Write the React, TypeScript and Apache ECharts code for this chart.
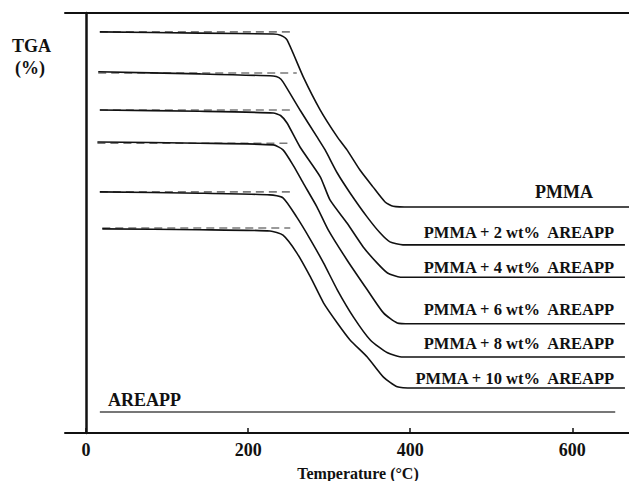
import React, { useEffect, useRef } from "react";
import * as echarts from "echarts";

// Temperature (°C) vs TGA (relative, arbitrary units, axis unlabeled)
const pmma = [[17, 95.5], [140, 95.2], [231, 95.0], [240, 94.7], [248, 93.6], [268, 84.8], [289, 76.9], [310, 70.5], [322, 67.4], [338, 62.6], [354, 58.6], [369, 55.0], [379, 54.0], [400, 53.8], [670, 53.8]];
const pmma2 = [[15, 86.0], [140, 85.5], [231, 85.0], [238, 84.6], [243, 83.6], [264, 76.9], [285, 70.5], [295, 67.4], [310, 61.9], [326, 57.1], [347, 51.4], [363, 47.6], [375, 45.5], [391, 44.8], [665, 44.8]];
const pmma4 = [[17, 76.9], [140, 76.6], [231, 76.2], [240, 75.6], [248, 73.8], [264, 68.1], [289, 61.0], [301, 55.5], [322, 50.0], [342, 44.3], [359, 40.5], [372, 38.1], [388, 37.1], [665, 37.1]];
const pmma6 = [[14, 69.3], [140, 69.0], [231, 68.6], [243, 67.4], [256, 63.6], [268, 59.5], [285, 53.8], [299, 48.3], [322, 41.2], [347, 34.1], [367, 28.6], [384, 26.2], [400, 26.0], [665, 26.0]];
const pmma8 = [[17, 57.4], [140, 57.1], [227, 56.7], [243, 56.0], [260, 51.4], [277, 46.0], [293, 40.5], [310, 34.1], [330, 27.6], [351, 22.1], [372, 19.1], [391, 18.1], [665, 18.1]];
const pmma10 = [[20, 48.6], [140, 48.4], [227, 48.1], [243, 47.1], [260, 42.9], [277, 37.1], [293, 31.0], [310, 26.2], [326, 22.1], [347, 18.1], [367, 13.3], [384, 11.0], [404, 10.7], [665, 10.7]];
const areapp = [[17, 5.0], [653, 5.0]];

const curves = [pmma, pmma2, pmma4, pmma6, pmma8, pmma10];
const curveNames = ["PMMA", "PMMA + 2 wt%  AREAPP", "PMMA + 4 wt%  AREAPP", "PMMA + 6 wt%  AREAPP", "PMMA + 8 wt%  AREAPP", "PMMA + 10 wt%  AREAPP"];

// dashed initial-mass reference lines
const baseLevels = [95.5, 85.7, 76.9, 69.0, 57.4, 48.8];
const baseStart = [17, 15, 17, 14, 17, 20];
const baseEnd = [252, 260, 252, 249, 252, 252];

const xTicks = [0, 200, 400, 600];

const FONT = "'Liberation Serif', 'Times New Roman', serif";

export default function App() {
  const ref = useRef<HTMLDivElement>(null);
  useEffect(() => {
    if (!ref.current) return;
    const chart = echarts.init(ref.current, null, { renderer: "svg" });
    const series: any[] = [];
    curves.forEach((d, i) => {
      series.push({
        name: curveNames[i],
        type: "line",
        data: d,
        symbol: "none",
        smooth: 0.2,
        lineStyle: { color: "#111", width: 1.6 },
        z: 3,
      });
      series.push({
        name: curveNames[i] + " base",
        type: "line",
        data: [[baseStart[i], baseLevels[i]], [baseEnd[i], baseLevels[i]]],
        symbol: "none",
        lineStyle: { color: "#7a7a7a", width: 1.6, type: [8, 5] },
        z: 2,
      });
    });
    series.push({
      name: "AREAPP",
      type: "line",
      data: areapp,
      symbol: "none",
      lineStyle: { color: "#777", width: 2 },
    });

    const labelYs = [192, 232, 267, 309, 343, 378];
    const graphics: any[] = curveNames.map((n, i) => ({
      type: "text",
      right: i === 0 ? 36 : 13,
      top: labelYs[i] - (i === 0 ? 9 : 8),
      style: {
        text: n,
        font: `bold ${i === 0 ? 18 : 16.5}px ${FONT}`,
        fill: "#111",
      },
    }));
    graphics.push({
      type: "text",
      left: 108,
      top: 391,
      style: { text: "AREAPP", font: `bold 18px ${FONT}`, fill: "#111" },
    });
    graphics.push({
      type: "text",
      left: 12,
      top: 37,
      style: { text: "TGA", font: `bold 18px ${FONT}`, fill: "#111" },
    });
    graphics.push({
      type: "text",
      left: 15,
      top: 59,
      style: { text: "(%)", font: `bold 18px ${FONT}`, fill: "#111" },
    });
    graphics.push({
      type: "text",
      x: 358,
      y: 473,
      style: {
        text: "Temperature (°C)",
        font: `bold 16px ${FONT}`,
        fill: "#111",
        align: "center",
        verticalAlign: "middle",
      },
    });

    chart.setOption({
      animation: false,
      backgroundColor: "#fff",
      grid: { left: 65, top: 13, right: 0, bottom: 48, outerBoundsMode: "none", containLabel: false },
      xAxis: [
        {
          type: "value",
          min: -26,
          max: 670,
          axisLine: { show: true, lineStyle: { color: "#111", width: 2 } },
          axisTick: { show: true, inside: true, length: 5, customValues: xTicks, lineStyle: { color: "#111", width: 1.5 } },
          axisLabel: { customValues: xTicks, fontFamily: FONT, fontWeight: "bold", fontSize: 18, color: "#111", margin: 8 },
          splitLine: { show: false },
        },
        {
          type: "value",
          position: "top",
          min: -26,
          max: 670,
          axisLine: { show: true, lineStyle: { color: "#111", width: 2 } },
          axisTick: { show: false },
          axisLabel: { show: false },
          splitLine: { show: false },
        },
      ],
      yAxis: {
        type: "value",
        min: 0,
        max: 100,
        axisLine: { show: true, lineStyle: { color: "#111", width: 2.5 } },
        axisTick: { show: false },
        axisLabel: { show: false },
        splitLine: { show: false },
      },
      graphic: graphics,
      series,
    });
    return () => chart.dispose();
  }, []);
  return (
    <div
      ref={ref}
      style={{ position: "fixed", left: 0, top: 0, width: 629, height: 481, background: "#fff" }}
    />
  );
}
